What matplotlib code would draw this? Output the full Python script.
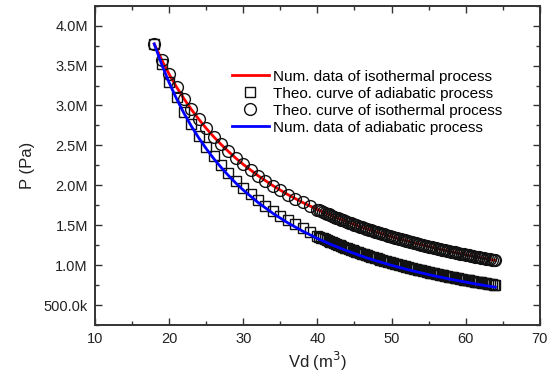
import numpy as np
import matplotlib
matplotlib.use('Agg')
import matplotlib.pyplot as plt
from matplotlib.ticker import MultipleLocator


# ============== DATA (pressure in MPa, volume in m^3) ==============

# numerical curves (lines)
line_v = [18, 19, 20, 21, 22, 23, 24, 25, 26, 27, 28, 29, 30,
          32, 34, 36, 38, 40, 42, 44, 46, 48, 50, 52, 54, 56, 58, 60, 62, 64]
iso_num_p = [3.770, 3.572, 3.393, 3.231, 3.085, 2.950, 2.828, 2.714, 2.610, 2.513, 2.424, 2.340, 2.262,
             2.121, 1.996, 1.885, 1.786, 1.697, 1.616, 1.542, 1.475, 1.414, 1.357, 1.305, 1.257,
             1.212, 1.170, 1.131, 1.095, 1.060]
adi_num_p = [3.770, 3.514, 3.287, 3.085, 2.904, 2.741, 2.594, 2.460, 2.337, 2.226, 2.123, 2.028, 1.941,
             1.785, 1.649, 1.531, 1.427, 1.335, 1.253, 1.180, 1.113, 1.053, 0.999, 0.949, 0.904,
             0.862, 0.824, 0.788, 0.755, 0.725]

# theoretical curves (markers): coarse samples up to 40, then dense samples
theo_v = [18, 19, 20, 21, 22, 23, 24, 25, 26, 27, 28, 29, 30, 31, 32, 33, 34, 35, 36, 37, 38, 39, 40,
          40.5, 41, 41.5, 42, 42.5, 43, 43.5, 44, 44.5, 45, 45.5, 46, 46.5, 47, 47.5, 48,
          48.5, 49, 49.5, 50, 50.5, 51, 51.5, 52, 52.5, 53, 53.5, 54, 54.5, 55, 55.5, 56,
          56.5, 57, 57.5, 58, 58.5, 59, 59.5, 60, 60.5, 61, 61.5, 62, 62.5, 63, 63.5, 64]
iso_theo_p = [3.770, 3.572, 3.393, 3.231, 3.085, 2.950, 2.828, 2.714, 2.610, 2.513, 2.424, 2.340,
              2.262, 2.189, 2.121, 2.056, 1.996, 1.939, 1.885, 1.834, 1.786, 1.740, 1.697,
              1.676, 1.655, 1.635, 1.616, 1.597, 1.578, 1.560, 1.542, 1.525, 1.508, 1.491, 1.475,
              1.459, 1.444, 1.429, 1.414, 1.399, 1.385, 1.371, 1.357, 1.344, 1.331, 1.318, 1.305,
              1.293, 1.280, 1.268, 1.257, 1.245, 1.234, 1.223, 1.212, 1.201, 1.191, 1.180, 1.170,
              1.160, 1.150, 1.141, 1.131, 1.122, 1.112, 1.103, 1.095, 1.086, 1.077, 1.069, 1.060]
adi_theo_p = [3.770, 3.520, 3.298, 3.100, 2.922, 2.762, 2.616, 2.484, 2.363, 2.253, 2.151, 2.057,
              1.971, 1.890, 1.815, 1.746, 1.681, 1.620, 1.563, 1.510, 1.460, 1.412, 1.368,
              1.346, 1.325, 1.305, 1.285, 1.266, 1.248, 1.229, 1.212, 1.194, 1.178, 1.161, 1.145,
              1.130, 1.114, 1.099, 1.085, 1.071, 1.057, 1.043, 1.030, 1.017, 1.005, 0.992, 0.980,
              0.968, 0.957, 0.945, 0.934, 0.923, 0.913, 0.902, 0.892, 0.882, 0.872, 0.863, 0.853,
              0.844, 0.835, 0.826, 0.817, 0.809, 0.800, 0.792, 0.784, 0.776, 0.768, 0.760, 0.753]

# extra dense samples in between (the black band beyond V = 40)
theo_q_v = [40.25, 40.75, 41.25, 41.75, 42.25, 42.75, 43.25, 43.75, 44.25, 44.75, 45.25, 45.75,
            46.25, 46.75, 47.25, 47.75, 48.25, 48.75, 49.25, 49.75, 50.25, 50.75, 51.25, 51.75,
            52.25, 52.75, 53.25, 53.75, 54.25, 54.75, 55.25, 55.75, 56.25, 56.75, 57.25, 57.75,
            58.25, 58.75, 59.25, 59.75, 60.25, 60.75, 61.25, 61.75, 62.25, 62.75, 63.25, 63.75]
iso_q_p = [1.686, 1.665, 1.645, 1.625, 1.606, 1.587, 1.569, 1.551, 1.534, 1.516, 1.500, 1.483,
           1.467, 1.452, 1.436, 1.421, 1.406, 1.392, 1.378, 1.364, 1.350, 1.337, 1.324, 1.311,
           1.299, 1.286, 1.274, 1.263, 1.251, 1.240, 1.228, 1.217, 1.206, 1.196, 1.185, 1.175,
           1.165, 1.155, 1.145, 1.136, 1.126, 1.117, 1.108, 1.099, 1.090, 1.081, 1.073, 1.065]
adi_q_p = [1.357, 1.336, 1.315, 1.295, 1.276, 1.257, 1.238, 1.220, 1.203, 1.186, 1.169, 1.153,
           1.137, 1.122, 1.106, 1.092, 1.078, 1.064, 1.050, 1.036, 1.023, 1.011, 0.998, 0.986,
           0.974, 0.962, 0.951, 0.939, 0.928, 0.918, 0.907, 0.897, 0.887, 0.877, 0.867, 0.858,
           0.848, 0.839, 0.830, 0.821, 0.813, 0.804, 0.796, 0.788, 0.780, 0.772, 0.764, 0.756]

y_ticks = [0.5, 1.0, 1.5, 2.0, 2.5, 3.0, 3.5, 4.0]
y_tick_labels = ['500.0k', '1.0M', '1.5M', '2.0M', '2.5M', '3.0M', '3.5M', '4.0M']
x_ticks = [10, 20, 30, 40, 50, 60, 70]

# ============== STYLE ==============

plt.rcParams['font.family'] = ['Liberation Sans', 'DejaVu Sans']
AXIS_COLOR = '#333333'
TEXT_COLOR = '#222222'

fig = plt.figure(figsize=(5.52, 3.75), dpi=100)
ax = fig.add_axes([0.172, 0.133, 0.806, 0.852])

sq_v = theo_v + theo_q_v
sq_p = adi_theo_p + adi_q_p
ci_v = theo_v + theo_q_v
ci_p = iso_theo_p + iso_q_p
order = np.argsort(sq_v)

ax.plot(line_v, iso_num_p, color='#ff0000', lw=2.0, label='Num. data of isothermal process', zorder=2)
ax.plot(np.array(sq_v)[order], np.array(sq_p)[order], ls='none', marker='s', ms=7.5, mfc='none',
        mec='#111111', mew=1.0, label='Theo. curve of adiabatic process', zorder=3)
ax.plot(np.array(ci_v)[order], np.array(ci_p)[order], ls='none', marker='o', ms=8.5, mfc='none',
        mec='#111111', mew=1.0, label='Theo. curve of isothermal process', zorder=3)
ax.plot(line_v, adi_num_p, color='#0000ff', lw=2.0, label='Num. data of adiabatic process', zorder=4)

ax.set_xlim(10, 70)
ax.set_ylim(0.25, 4.25)
ax.set_xticks(x_ticks)
ax.set_yticks(y_ticks)
ax.set_yticklabels(y_tick_labels)
ax.xaxis.set_minor_locator(MultipleLocator(5))
ax.yaxis.set_minor_locator(MultipleLocator(0.25))

ax.tick_params(which='both', direction='in', top=True, right=True, colors=AXIS_COLOR,
               labelsize=10.5, width=1.0, pad=5)
ax.tick_params(which='major', length=5)
ax.tick_params(which='minor', length=3)
ax.tick_params(axis='both', labelcolor=TEXT_COLOR)
for s in ax.spines.values():
    s.set_color(AXIS_COLOR)
    s.set_linewidth(1.4)

ax.set_xlabel('Vd (m$^3$)', fontsize=12, color=TEXT_COLOR, labelpad=3)
ax.set_ylabel('P (Pa)', fontsize=12, color=TEXT_COLOR, labelpad=6)

ax.legend(loc='upper left', bbox_to_anchor=(0.308, 0.80), frameon=False, fontsize=11,
          handlelength=2.4, handletextpad=0.3, labelspacing=0.2, borderaxespad=0, borderpad=0)

fig.savefig('out.png', dpi=100)
